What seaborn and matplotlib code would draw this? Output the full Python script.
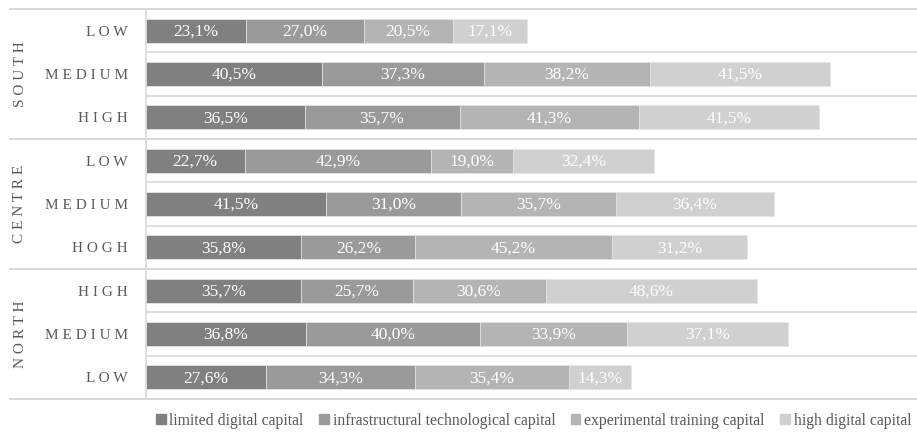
import matplotlib
matplotlib.use("Agg")
import matplotlib.pyplot as plt
from matplotlib.patches import Patch
import seaborn as sns
import pandas as pd
import numpy as np

groups = ["SOUTH", "SOUTH", "SOUTH", "CENTRE", "CENTRE", "CENTRE", "NORTH", "NORTH", "NORTH"]
levels = ["LOW", "MEDIUM", "HIGH", "LOW", "MEDIUM", "HOGH", "HIGH", "MEDIUM", "LOW"]
series = ["limited digital capital", "infrastructural technological capital",
          "experimental training capital", "high digital capital"]
limited = [23.1, 40.5, 36.5, 22.7, 41.5, 35.8, 35.7, 36.8, 27.6]
infrastructural = [27.0, 37.3, 35.7, 42.9, 31.0, 26.2, 25.7, 40.0, 34.3]
experimental = [20.5, 38.2, 41.3, 19.0, 35.7, 45.2, 30.6, 33.9, 35.4]
high = [17.1, 41.5, 41.5, 32.4, 36.4, 31.2, 48.6, 37.1, 14.3]

colors = ["#808080", "#9a9a9a", "#b4b4b4", "#d0d0d0"]
line_c = "#d9d9d9"
text_c = "#595959"

sns.set_style("white")
plt.rcParams["font.family"] = ["Liberation Serif", "DejaVu Serif"]

rows = [f"{g}|{l}|{i}" for i, (g, l) in enumerate(zip(groups, levels))]
vals = np.array([limited, infrastructural, experimental, high])
cum = np.cumsum(vals, axis=0)

fig = plt.figure(figsize=(9.17, 4.36), dpi=100)
W, H = 917, 436
ax = fig.add_axes([146 / W, 1 - 399 / H, (W - 146) / W, 390 / H])

for k in range(3, -1, -1):
    df = pd.DataFrame({"row": rows, "value": cum[k]})
    sns.barplot(data=df, x="value", y="row", order=rows, color=colors[k],
                width=0.56, orient="h", ax=ax, saturation=1, linewidth=0.6,
                edgecolor="#e6e6e6")

for k in range(4):
    for i in range(len(rows)):
        v = vals[k][i]
        ax.text(cum[k][i] - v / 2, i + 0.02, f"{v:.1f}%".replace(".", ","),
                ha="center", va="center", color="white", fontsize=12.5)

ax.set_xlim(0, 771 / 4.343)
ax.set_ylim(8.5, -0.5)
ax.set_xlabel("")
ax.set_ylabel("")
ax.set_xticks([])
ax.set_yticks(range(len(rows)))
ax.set_yticklabels([" ".join(l) for l in levels], color=text_c, fontsize=11)
ax.tick_params(axis="y", length=0, pad=13)
for s in ["top", "right", "bottom"]:
    ax.spines[s].set_visible(False)
ax.spines["left"].set_color(line_c)
ax.spines["left"].set_linewidth(1.2)

tr = ax.get_yaxis_transform()
x0 = (10 - 146) / 771
for y in [0.5, 1.5, 3.5, 4.5, 6.5, 7.5]:
    ax.plot([0, 1], [y, y], color=line_c, lw=1.2, transform=tr, clip_on=False)
for y in [-0.5, 2.5, 5.5, 8.5]:
    ax.plot([x0, 1], [y, y], color=line_c, lw=1.5, transform=tr, clip_on=False)

for g, yc in [("SOUTH", 1), ("CENTRE", 4), ("NORTH", 7)]:
    ax.text((20 - 146) / 771, yc, " ".join(g), rotation=90, ha="center", va="center",
            color=text_c, fontsize=11, transform=tr)

handles = [Patch(color=c, label=s) for c, s in zip(colors, series)]
fig.legend(handles=handles, loc="center", bbox_to_anchor=(0.582, 1 - 421 / H), ncol=4,
           frameon=False, handlelength=0.6, handleheight=0.6, handletextpad=0.25,
           columnspacing=1.0, fontsize=11.3, labelcolor=text_c)

fig.savefig("out.png", dpi=100)
